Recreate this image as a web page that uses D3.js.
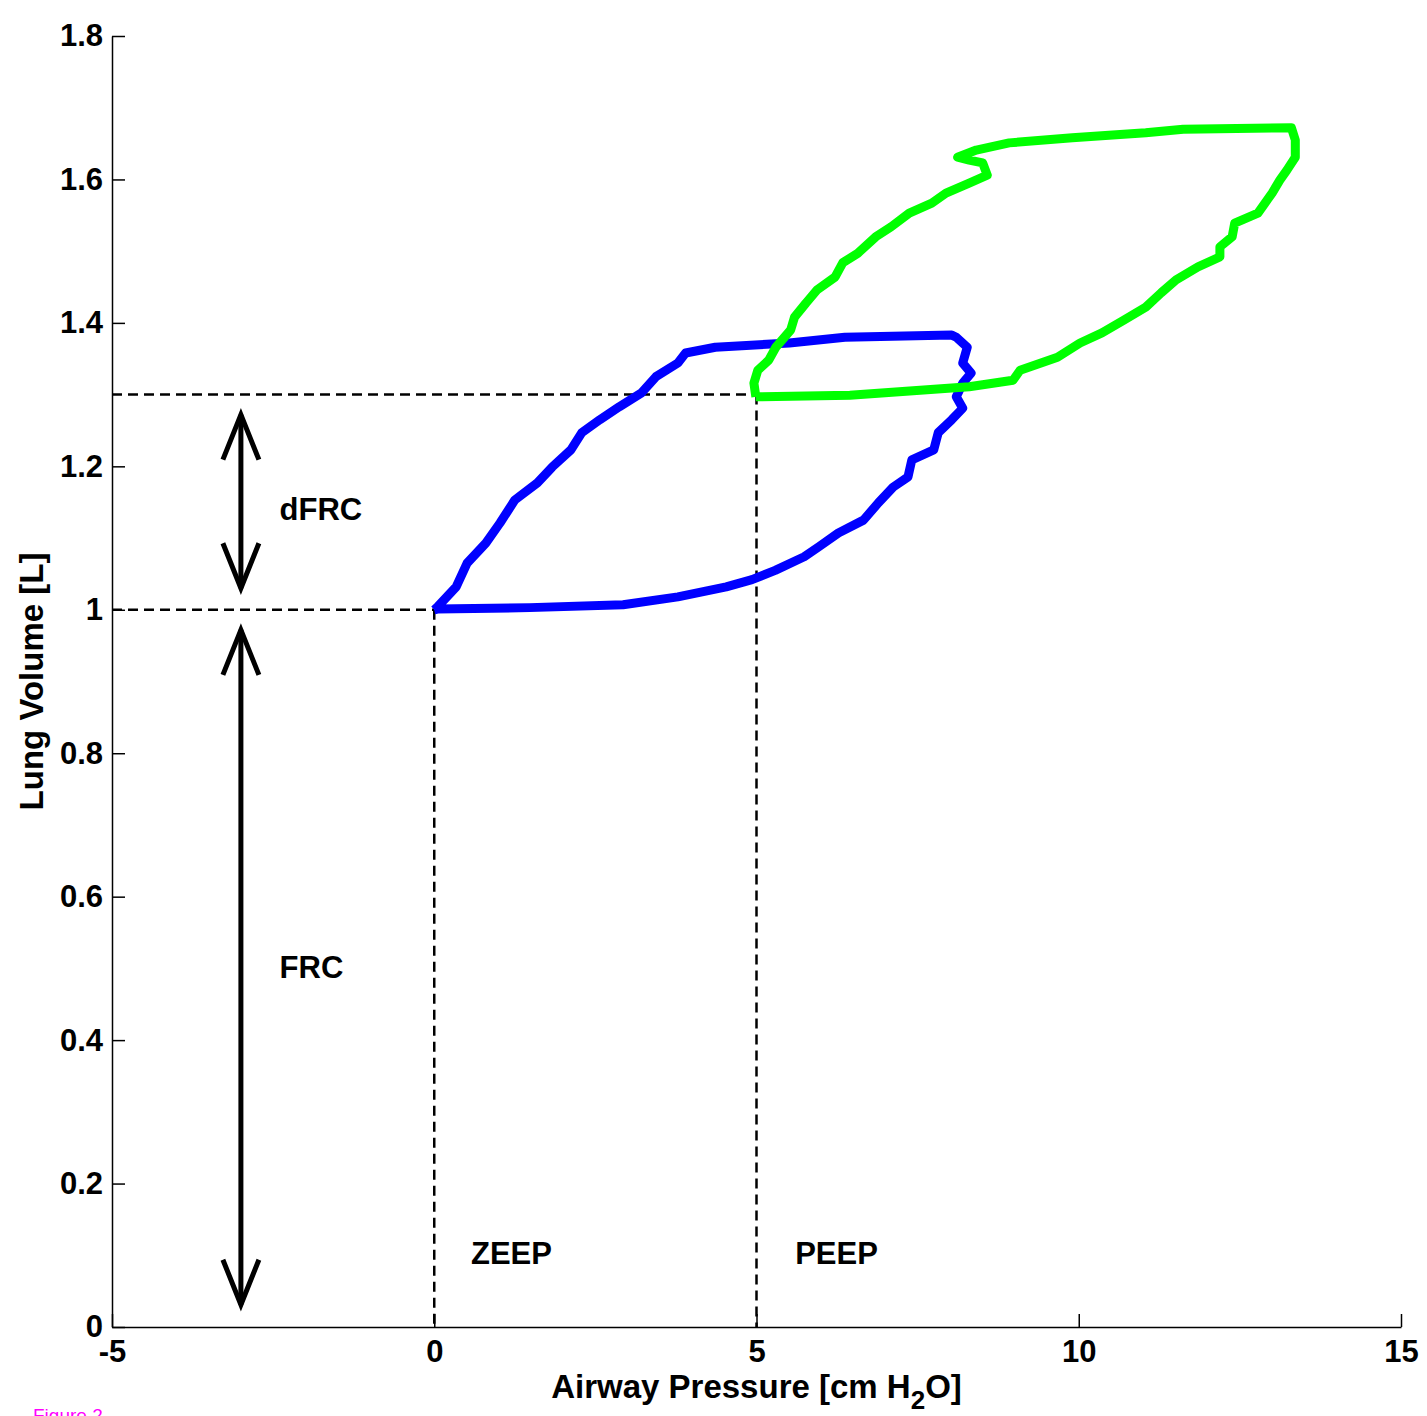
<!DOCTYPE html>
<html>
<head>
<meta charset="utf-8">
<script src="https://cdn.jsdelivr.net/npm/d3@7"></script>
<style>
  html, body { margin: 0; padding: 0; background: #fff; }
  svg { display: block; font-family: "Liberation Sans", Arial, sans-serif; }
</style>
</head>
<body>
<svg id="chart" width="1427" height="1416"></svg>
<script>
// Pressure-volume loops: ZEEP (blue) and PEEP (green)
const zeepPressure = [0.00, 0.05, 0.34, 0.51, 0.80, 1.02, 1.25, 1.60, 1.83, 2.12, 2.29, 2.57, 2.87, 3.21, 3.44, 3.78, 3.90, 4.36, 5.51, 6.37, 8.03,
  8.10, 8.27, 8.20, 8.33, 8.20, 8.10, 8.20, 8.03, 7.82, 7.75, 7.41, 7.35, 7.12, 6.89, 6.66, 6.27, 5.97, 5.74, 5.29, 4.93, 4.53, 3.78, 2.93, 1.48, 0.05, 0.00];
const zeepVolume = [1.000, 1.004, 1.032, 1.065, 1.093, 1.121, 1.153, 1.177, 1.199, 1.223, 1.247, 1.265, 1.283, 1.302, 1.325, 1.344, 1.358, 1.366, 1.372, 1.380, 1.383,
  1.380, 1.366, 1.344, 1.330, 1.316, 1.297, 1.281, 1.265, 1.247, 1.223, 1.209, 1.185, 1.171, 1.149, 1.125, 1.107, 1.088, 1.074, 1.055, 1.042, 1.032, 1.018, 1.007, 1.003, 1.001, 1.000];

const peepPressure = [4.99, 4.96, 5.02, 5.19, 5.30, 5.53, 5.59, 5.77, 5.94, 6.22, 6.34, 6.57, 6.85, 7.09, 7.37, 7.72, 7.94, 8.30, 8.58, 8.51, 8.30, 8.12, 8.41, 8.92, 9.90, 11.04, 11.62, 13.30,
  13.36, 13.36, 13.23, 13.12, 13.00, 12.89, 12.78, 12.42, 12.38, 12.19, 12.19, 11.85, 11.51, 11.28, 11.04, 10.70, 10.36, 10.02, 9.67, 9.09, 8.98, 8.30, 6.45, 5.02, 4.99];
const peepVolume = [1.297, 1.316, 1.334, 1.348, 1.366, 1.390, 1.408, 1.428, 1.446, 1.464, 1.484, 1.497, 1.520, 1.534, 1.553, 1.567, 1.581, 1.595, 1.606, 1.623, 1.627, 1.631, 1.641, 1.651, 1.658, 1.665, 1.670, 1.672,
  1.655, 1.631, 1.613, 1.599, 1.581, 1.567, 1.553, 1.539, 1.520, 1.506, 1.492, 1.478, 1.460, 1.442, 1.422, 1.404, 1.386, 1.372, 1.352, 1.334, 1.320, 1.311, 1.299, 1.297, 1.297];

// Axis ticks
const xTicks = [-5, 0, 5, 10, 15];
const xTickLabels = ["-5", "0", "5", "10", "15"];
const yTicks = [0, 0.2, 0.4, 0.6, 0.8, 1.0, 1.2, 1.4, 1.6, 1.8];
const yTickLabels = ["0", "0.2", "0.4", "0.6", "0.8", "1", "1.2", "1.4", "1.6", "1.8"];

// Reference levels
const zeepLevel = 0;      // cm H2O
const peepLevel = 5;      // cm H2O
const frcVolume = 1.0;    // L
const eelvPeep = 1.3;     // L
const arrowPressure = -3;
const dfrcArrow = [1.030, 1.272];
const frcArrow = [0.031, 0.972];

const svg = d3.select("#chart");
const margin = { left: 112, top: 36, right: 26, bottom: 89 };
const W = 1427, H = 1416;
const iw = W - margin.left - margin.right;
const ih = H - margin.top - margin.bottom;

const x = d3.scaleLinear().domain([-5, 15]).range([0, iw]);
const y = d3.scaleLinear().domain([0, 1.8]).range([ih, 0]);

const g = svg.append("g").attr("transform", `translate(${margin.left},${margin.top})`);

// Dashed reference lines
const dash = g.append("g").attr("stroke", "#000").attr("stroke-width", 2.5).attr("stroke-dasharray", "10,6").attr("fill", "none");
dash.append("line").attr("x1", x(-5)).attr("x2", x(peepLevel)).attr("y1", y(eelvPeep)).attr("y2", y(eelvPeep));
dash.append("line").attr("x1", x(-5)).attr("x2", x(zeepLevel)).attr("y1", y(frcVolume)).attr("y2", y(frcVolume));
dash.append("line").attr("x1", x(zeepLevel)).attr("x2", x(zeepLevel)).attr("y1", y(frcVolume)).attr("y2", y(0));
dash.append("line").attr("x1", x(peepLevel)).attr("x2", x(peepLevel)).attr("y1", y(eelvPeep)).attr("y2", y(0));

// Loops
const line = d3.line().x(d => x(d[0])).y(d => y(d[1]));
const zeep = zeepPressure.map((p, i) => [p, zeepVolume[i]]);
const peep = peepPressure.map((p, i) => [p, peepVolume[i]]);
g.append("path").datum(zeep).attr("d", line).attr("fill", "none").attr("stroke", "#0000ff")
  .attr("stroke-width", 9).attr("stroke-linejoin", "round");
g.append("path").datum(peep).attr("d", line).attr("fill", "none").attr("stroke", "#00ff00")
  .attr("stroke-width", 9).attr("stroke-linejoin", "round");

// Double-headed arrows
function doubleArrow(v0, v1) {
  const ax = x(arrowPressure);
  const ya = y(v0), yb = y(v1);
  const a = g.append("g").attr("stroke", "#000").attr("stroke-width", 5).attr("fill", "none").attr("stroke-linecap", "butt");
  a.append("line").attr("x1", ax).attr("x2", ax).attr("y1", ya).attr("y2", yb);
  a.append("path").attr("d", `M${ax - 18},${yb + 45} L${ax},${yb} L${ax + 18},${yb + 45}`);
  a.append("path").attr("d", `M${ax - 18},${ya - 45} L${ax},${ya} L${ax + 18},${ya - 45}`);
}
doubleArrow(dfrcArrow[0], dfrcArrow[1]);
doubleArrow(frcArrow[0], frcArrow[1]);

// Annotations
const ann = g.append("g").attr("font-weight", "bold").attr("font-size", 31).attr("fill", "#000");
ann.append("text").attr("x", x(-2.4)).attr("y", y(1.14)).attr("dy", "0.35em").text("dFRC");
ann.append("text").attr("x", x(-2.4)).attr("y", y(0.502)).attr("dy", "0.35em").text("FRC");
ann.append("text").attr("x", x(0.57)).attr("y", y(0.103)).attr("dy", "0.35em").text("ZEEP");
ann.append("text").attr("x", x(5.6)).attr("y", y(0.103)).attr("dy", "0.35em").text("PEEP");

// Axes
const xAxis = d3.axisBottom(x).tickValues(xTicks).tickFormat((d, i) => xTickLabels[i])
  .tickSizeInner(-13).tickSizeOuter(0).tickPadding(13);
const yAxis = d3.axisLeft(y).tickValues(yTicks).tickFormat((d, i) => yTickLabels[i])
  .tickSizeInner(-13).tickSizeOuter(0).tickPadding(9);

const gx = g.append("g").attr("transform", `translate(0,${ih})`).call(xAxis);
const gy = g.append("g").call(yAxis);
[gx, gy].forEach(a => {
  a.selectAll("path, line").attr("stroke", "#000").attr("stroke-width", 1.5);
  a.selectAll("text").attr("font-family", "Liberation Sans, Arial, sans-serif")
    .attr("font-weight", "bold").attr("font-size", 31).attr("fill", "#000");
});

// Axis titles
const xt = svg.append("text").attr("x", margin.left + x(5)).attr("y", 1398)
  .attr("text-anchor", "middle").attr("font-weight", "bold").attr("font-size", 33).attr("fill", "#000");
xt.append("tspan").text("Airway Pressure [cm H");
xt.append("tspan").attr("font-size", 26).attr("dy", 11).text("2");
xt.append("tspan").attr("dy", -11).text("O]");

svg.append("text").attr("transform", `translate(43,${margin.top + y(0.9)}) rotate(-90)`)
  .attr("text-anchor", "middle").attr("font-weight", "bold").attr("font-size", 33).attr("fill", "#000")
  .text("Lung Volume [L]");

svg.append("text").attr("x", 33).attr("y", 1422).attr("font-size", 19).attr("fill", "#ff00ff").text("Figure 2");
</script>
</body>
</html>
